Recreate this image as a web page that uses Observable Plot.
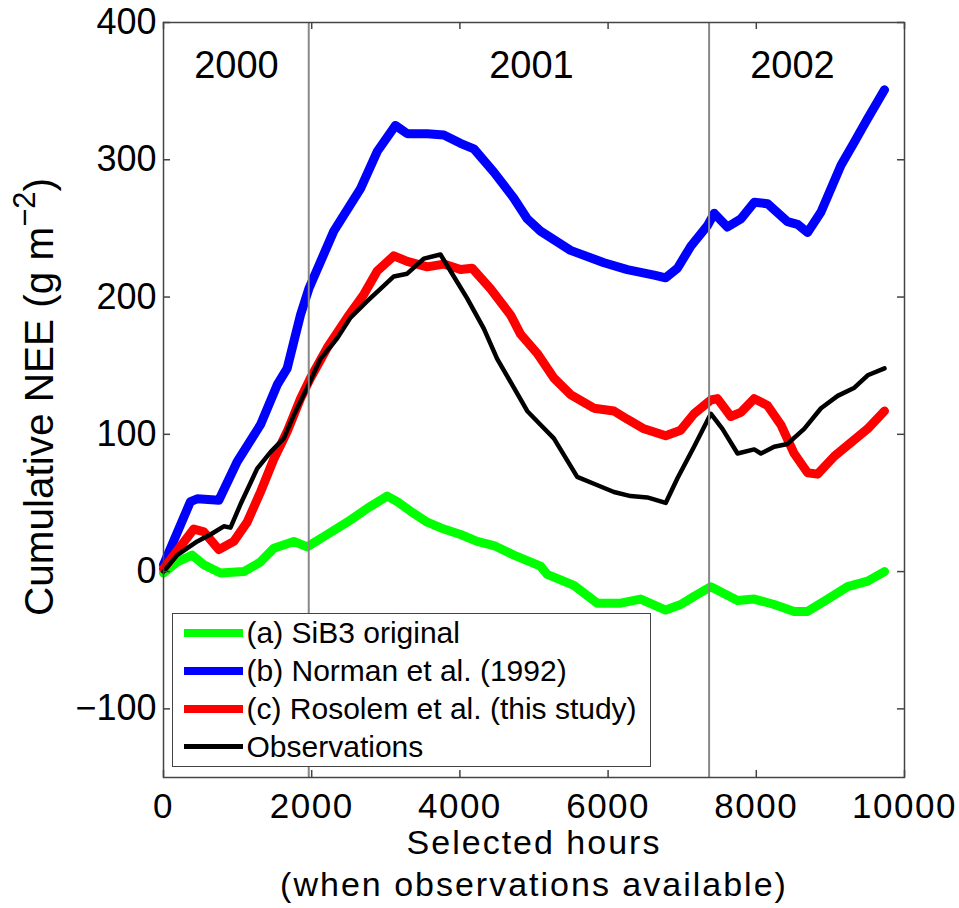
<!DOCTYPE html>
<html>
<head>
<meta charset="utf-8">
<script src="https://cdn.jsdelivr.net/npm/d3@7"></script>
<script src="https://cdn.jsdelivr.net/npm/@observablehq/plot@0.6"></script>
<style>
  html, body { margin: 0; padding: 0; background: white; }
  #wrap { position: relative; width: 959px; height: 908px; font-family: "Liberation Sans", Arial, Helvetica, sans-serif; }
  #wrap svg { display: block; }
  #legend { position: absolute; left: 172px; top: 613px; width: 479px; height: 154px; box-sizing: border-box;
            border: 1.5px solid #444; background: white; }
  .row { position: absolute; left: 0; height: 37.8px; display: flex; align-items: center; font-size: 30px; line-height: 1; color: black; white-space: nowrap; }
  .sw { margin-left: 10.5px; width: 59px; margin-right: 4px; }
</style>
</head>
<body>
<div id="wrap"></div>
<script>
// ---- data ----
const seriesNames = ["(a) SiB3 original", "(b) Norman et al. (1992)", "(c) Rosolem et al. (this study)", "Observations"];
const seriesColors = ["#00ff00", "#0000ff", "#ff0000", "#000000"];

const sib3Hours = [0, 184, 387, 544, 769, 1084, 1309, 1489, 1759, 1939, 2209, 2479, 2749, 3019, 3154, 3333, 3559, 3783, 4008, 4233, 4458, 4728, 5088, 5178, 5538, 5853, 6169, 6439, 6777, 6980, 7160, 7386, 7747, 7972, 8241, 8511, 8692, 8963, 9233, 9503, 9730];
const sib3Values = [-1, 7, 12, 5, -1, 0, 7, 17, 22, 18, 27, 36, 46, 55, 51, 44, 36, 31, 27, 22, 19, 12, 4, -2, -10, -23, -23, -20, -28, -24, -18, -11, -21, -20, -24, -29, -29, -20, -11, -7, 0];

const normanHours = [0, 364, 455, 747, 994, 1309, 1534, 1669, 1849, 1961, 2298, 2659, 2884, 3131, 3289, 3559, 3783, 4008, 4188, 4458, 4728, 4908, 5088, 5493, 5945, 6259, 6621, 6777, 6936, 7116, 7341, 7432, 7611, 7792, 7972, 8151, 8421, 8556, 8692, 8873, 9143, 9324, 9503, 9730];
const normanValues = [5, 51, 53, 52, 80, 107, 136, 148, 187, 206, 248, 279, 306, 325, 319, 319, 318, 312, 308, 291, 272, 257, 248, 234, 225, 220, 216, 214, 221, 237, 252, 261, 251, 257, 269, 268, 255, 253, 247, 262, 296, 313, 330, 351];

const rosolemHours = [0, 409, 544, 747, 949, 1129, 1309, 1489, 1669, 1849, 1984, 2209, 2479, 2704, 2884, 3108, 3289, 3559, 3783, 4008, 4166, 4413, 4683, 4818, 5043, 5268, 5493, 5808, 6079, 6259, 6484, 6777, 6980, 7160, 7386, 7476, 7656, 7792, 7972, 8151, 8331, 8511, 8692, 8827, 9053, 9278, 9503, 9730];
const rosolemValues = [2, 31, 29, 16, 22, 36, 58, 82, 102, 126, 141, 163, 185, 202, 219, 230, 226, 222, 224, 220, 221, 206, 187, 173, 159, 141, 129, 119, 117, 111, 104, 99, 103, 115, 125, 126, 113, 116, 126, 121, 107, 86, 72, 71, 84, 94, 104, 117];

const obsHours = [0, 184, 455, 634, 814, 904, 1039, 1264, 1444, 1624, 1759, 1939, 2119, 2344, 2524, 2749, 2928, 3108, 3289, 3513, 3738, 3873, 4098, 4323, 4503, 4728, 4908, 5088, 5268, 5583, 5808, 6079, 6304, 6529, 6777, 6936, 7160, 7386, 7543, 7747, 7972, 8062, 8241, 8421, 8646, 8873, 9098, 9324, 9503, 9730];
const obsValues = [0, 12, 22, 27, 33, 32, 49, 75, 87, 97, 114, 134, 155, 170, 185, 197, 206, 215, 217, 228, 231, 219, 199, 177, 155, 134, 117, 107, 97, 69, 64, 58, 55, 54, 50, 68, 91, 115, 104, 86, 89, 86, 91, 93, 104, 119, 128, 134, 143, 148];

const yearBoundaryHours = [1960, 7363];
const yearLabels = ["2000", "2001", "2002"];
const yearLabelHours = [985, 4966, 8488];

const xTicks = [0, 2000, 4000, 6000, 8000, 10000];
const yTicks = [-100, 0, 100, 200, 300, 400];

const xTitle = "Selected hours";
const xSubtitle = "(when observations available)";
const yTitleMain = "Cumulative NEE (g m";
const yTitleSup = "\u22122";
const yTitleEnd = ")";

// ---- build ----
const allHours = [sib3Hours, normanHours, rosolemHours, obsHours];
const allValues = [sib3Values, normanValues, rosolemValues, obsValues];
const seriesData = allHours.map((h, i) => h.map((x, j) => ({x, y: allValues[i][j]})));
const strokeWidths = [9, 9, 9, 4.5];

const W = 959, H = 908, mT = 22, mB = 131, mL = 163, mR = 55;
const plotW = W - mL - mR, plotH = H - mT - mB;
const tickLen = 7;
const frameColor = "#444";

const svg = Plot.plot({
  width: W, height: H,
  marginTop: mT, marginBottom: mB, marginLeft: mL, marginRight: mR,
  style: {fontFamily: "'Liberation Sans', Arial, Helvetica, sans-serif", background: "white", color: "black", overflow: "visible"},
  x: {domain: [0, 10000]},
  y: {domain: [-150, 400]},
  marks: [
    ...seriesData.map((d, i) => Plot.line(d, {x: "x", y: "y", stroke: seriesColors[i], strokeWidth: strokeWidths[i], strokeLinejoin: "round", strokeLinecap: "round"})),
    Plot.ruleX(yearBoundaryHours, {x: d => d, stroke: "#888", strokeWidth: 2}),
    Plot.frame({stroke: frameColor, strokeWidth: 1.5}),
    Plot.tickX(xTicks, {x: d => d, insetTop: plotH - tickLen, stroke: frameColor, strokeWidth: 1.5}),
    Plot.tickX(xTicks, {x: d => d, insetBottom: plotH - tickLen, stroke: frameColor, strokeWidth: 1.5}),
    Plot.tickY(yTicks, {y: d => d, insetRight: plotW - tickLen, stroke: frameColor, strokeWidth: 1.5}),
    Plot.tickY(yTicks, {y: d => d, insetLeft: plotW - tickLen, stroke: frameColor, strokeWidth: 1.5}),
    Plot.axisX({ticks: xTicks, tickSize: 0, tickPadding: 16, fontSize: 35, label: null, tickFormat: d => String(d)}),
    Plot.axisY({ticks: yTicks, tickSize: 0, tickPadding: 7, fontSize: 36, label: null}),
    Plot.text(yearLabels, {x: (d, i) => yearLabelHours[i], text: d => d, frameAnchor: "top", lineAnchor: "middle", textAnchor: "middle", dy: 43, fontSize: 38, fill: "black"}),
    Plot.text([xTitle], {text: d => d, frameAnchor: "bottom", lineAnchor: "middle", textAnchor: "middle", dy: 66, fontSize: 34, fill: "black"}),
    Plot.text([xSubtitle], {text: d => d, frameAnchor: "bottom", lineAnchor: "middle", textAnchor: "middle", dy: 108, fontSize: 34, fill: "black"}),
    Plot.text([yTitleMain], {text: d => d, frameAnchor: "left", lineAnchor: "middle", textAnchor: "middle", rotate: -90, dx: -123, dy: -3, fontSize: 40.5, fill: "black"})
  ]
});

// text refinements: wider x-axis texts and superscript in y title
const ns = "http://www.w3.org/2000/svg";
const xTickStrings = xTicks.map(String);
svg.querySelectorAll("text").forEach(t => {
  const s = t.textContent;
  if (s === xTitle || s === xSubtitle) t.style.letterSpacing = "2px";
  else if (xTickStrings.includes(s) && t.closest('[aria-label="x-axis tick label"]')) t.style.letterSpacing = "1.5px";
  else if (s === yTitleMain) {
    while (t.firstChild) t.removeChild(t.firstChild);
    const t1 = document.createElementNS(ns, "tspan"); t1.textContent = yTitleMain;
    const t2 = document.createElementNS(ns, "tspan"); t2.textContent = yTitleSup; t2.setAttribute("font-size", "31"); t2.setAttribute("dy", "-18");
    const t3 = document.createElementNS(ns, "tspan"); t3.textContent = yTitleEnd; t3.setAttribute("dy", "18");
    t.append(t1, t2, t3);
  }
});

const wrap = document.getElementById("wrap");
wrap.appendChild(svg);

// legend
const legend = document.createElement("div");
legend.id = "legend";
seriesNames.forEach((name, i) => {
  const row = document.createElement("div");
  row.className = "row";
  row.style.top = (0.5 + i * 37.8) + "px";
  const sw = document.createElement("span");
  sw.className = "sw";
  sw.style.height = (i === 3 ? 5 : 8) + "px";
  sw.style.background = seriesColors[i];
  const tx = document.createElement("span");
  tx.textContent = name;
  row.append(sw, tx);
  legend.appendChild(row);
});
wrap.appendChild(legend);
</script>
</body>
</html>
